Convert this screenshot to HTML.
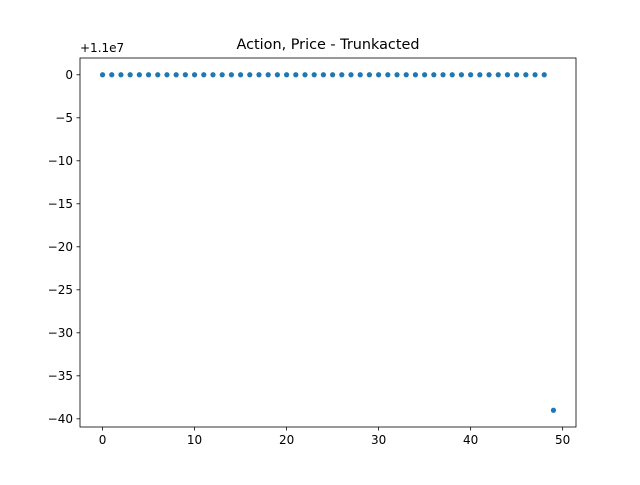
<!DOCTYPE html>
<html><head><meta charset="utf-8"><style>
body{margin:0;background:#fff;}
svg text{font-family:"DejaVu Sans","Liberation Sans",sans-serif;}
</style></head><body>
<svg id="chart" width="640" height="480" xmlns="http://www.w3.org/2000/svg">
<rect width="640" height="480" fill="#fff"/>
<text x="328" y="49" font-size="14.4" text-anchor="middle">Action, Price - Trunkacted</text>
<text x="80" y="52" font-size="12">+1.1e7</text>
<g id="ticks"></g>
<g id="points"></g>
<rect x="80" y="58" width="496" height="369" fill="none" stroke="#000" stroke-width="0.8"/>
</svg>
<script>
const xValues = [];
for (let i = 0; i < 50; i++) xValues.push(i);
const yValues = [0,0,0,0,0,0,0,0,0,0,0,0,0,0,0,0,0,0,0,0,0,0,0,0,0,0,0,0,0,0,0,0,0,0,0,0,0,0,0,0,0,0,0,0,0,0,0,0,0,-39];
const xTicks = [0,10,20,30,40,50];
const yTicks = [0,-5,-10,-15,-20,-25,-30,-35,-40];

const L=80,R=576,T=58,B=427;
const xmin=-2.45,xmax=51.45,ymin=-40.95,ymax=1.95;
const xs=v=>L+(v-xmin)/(xmax-xmin)*(R-L);
const ys=v=>B-(v-ymin)/(ymax-ymin)*(B-T);
const NS="http://www.w3.org/2000/svg";
const tg=document.getElementById('ticks');
function mk(tag,attrs,parent){const e=document.createElementNS(NS,tag);for(const k in attrs)e.setAttribute(k,attrs[k]);parent.appendChild(e);return e;}
xTicks.forEach(t=>{
  const x=xs(t);
  const l=mk('line',{x1:x,x2:x,y1:B,y2:B+3.5,stroke:'#000','stroke-width':0.8},tg);
  
  
  const tx=mk('text',{x:x,y:B+17,'font-size':12,'text-anchor':'middle'},tg);
  tx.textContent=t;
  
  
});
yTicks.forEach(t=>{
  const y=ys(t);
  const l=mk('line',{x1:L-3.5,x2:L,y1:y,y2:y,stroke:'#000','stroke-width':0.8},tg);
  
  
  const tx=mk('text',{x:L-7,y:y+4.3,'font-size':12,'text-anchor':'end'},tg);
  tx.textContent=(t<0?'\u2212'+(-t):t);
  
  
});
const pg=document.getElementById('points');
xValues.forEach((x,i)=>{
  const c=mk('circle',{cx:xs(x),cy:ys(yValues[i]),r:2.6,fill:'#1f77b4'},pg);
  
  
});
</script>
</body></html>
